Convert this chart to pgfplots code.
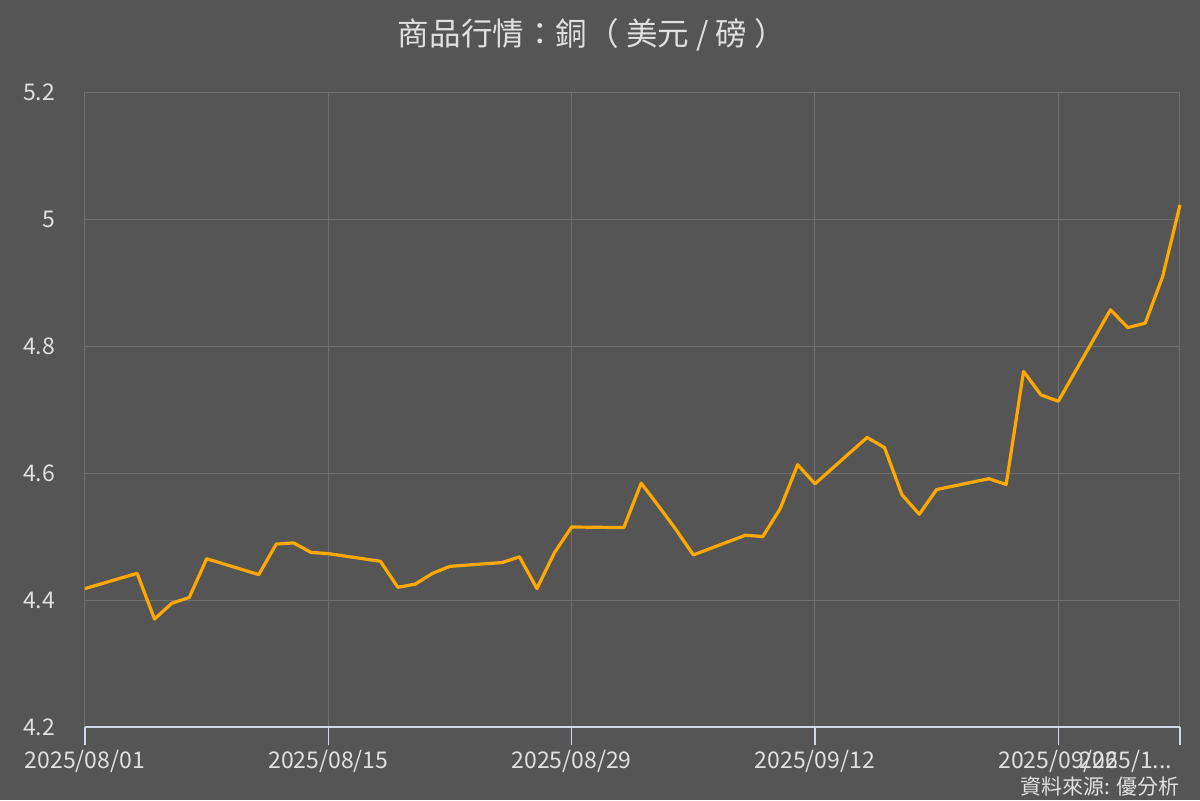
\documentclass[border=0pt]{standalone}
\usepackage{pgfplots}
\pgfplotsset{compat=1.18}
\usepackage{fontspec}
\setmainfont{Noto Sans CJK TC}
\definecolor{bg}{HTML}{555555}
\definecolor{gridc}{HTML}{707070}
\definecolor{axisline}{HTML}{D0D8EA}
\definecolor{txt}{HTML}{E0E0E0}
\definecolor{copper}{HTML}{FFA800}
\begin{document}
\begin{tikzpicture}[x=1pt,y=1pt]
\useasboundingbox (0,0) rectangle (600,400);
\fill[bg] (0,0) rectangle (600,400);
\begin{axis}[
  at={(42.5pt,36.5pt)}, anchor=south west, scale only axis,
  width=547.5pt, height=317.5pt,
  xmin=0, xmax=63, ymin=4.2, ymax=5.2,
  xtick={0,14,28,42,56,63},
  xticklabels={2025/08/01,2025/08/15,2025/08/29,2025/09/12,2025/09/26,\llap{2025/1...\hspace{4pt}}},
  ytick={4.2,4.4,4.6,4.8,5.0,5.2},
  yticklabels={4.2,4.4,4.6,4.8,5,5.2},
  grid=major, major grid style={gridc, line width=0.5pt},
  axis x line*=bottom, axis y line*=left,
  x axis line style={axisline, line width=1pt},
  y axis line style={draw=none},
  tick align=outside,
  xtick style={axisline, line width=0.6pt},
  ytick style={draw=none},
  major tick length=9pt,
  /pgf/number format/assume math mode=true,
  ticklabel style={font=\fontsize{11.5}{13}\selectfont, text=txt},
  xticklabel style={yshift=1pt},
  yticklabel style={xshift=-2.5pt},
  clip=false,
]
\addplot[copper, line width=1.6pt, line join=round] coordinates {
(0,4.418) (3,4.442) (4,4.370) (5,4.395) (6,4.404) (7,4.465)
(10,4.440) (11,4.488) (12,4.490) (13,4.475) (14,4.473)
(17,4.461) (18,4.420) (19,4.425) (20,4.442) (21,4.453)
(24,4.459) (25,4.468) (26,4.418) (27,4.474) (28,4.515)
(31,4.514) (32,4.584) (33,4.548) (34,4.511) (35,4.471)
(38,4.502) (39,4.500) (40,4.544) (41,4.613) (42,4.583)
(45,4.656) (46,4.640) (47,4.566) (48,4.535) (49,4.574)
(52,4.591) (53,4.582) (54,4.760) (55,4.723) (56,4.713)
(59,4.857) (60,4.829) (61,4.836) (62,4.909) (63,5.022)
};
\end{axis}
\node[text=txt, font=\fontsize{15.8}{18}\selectfont] at (296,382.5) {商品行情：銅（ 美元 / 磅 ）};
\node[anchor=east, text=txt, font=\fontsize{10.5}{12}\selectfont, inner sep=0pt] at (590,6.5) {資料來源: 優分析};
\end{tikzpicture}
\end{document}
